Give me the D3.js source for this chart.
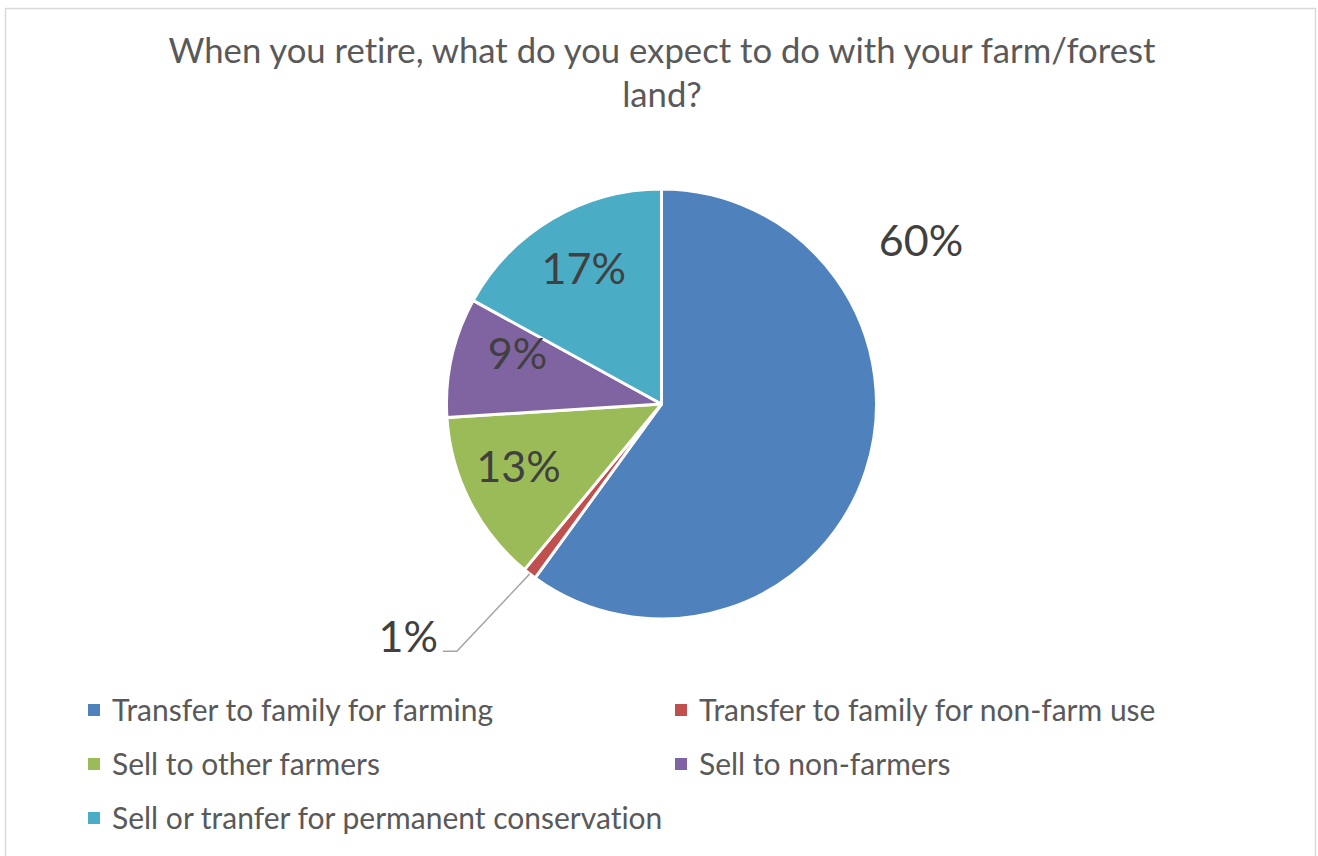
<!DOCTYPE html>
<html>
<head>
<meta charset="utf-8">
<script src="https://cdn.jsdelivr.net/npm/d3@7"></script>
<style>
  html, body { margin: 0; padding: 0; background: #ffffff; }
  svg { display: block; }
  text { font-family: Lato, "Open Sans", sans-serif; font-variant-ligatures: none; }
</style>
</head>
<body>
<svg id="chart" width="1318" height="856"></svg>
<script>
// Survey answers and their share of respondents (percent)
const categories = [
  "Transfer to family for farming",
  "Transfer to family for non-farm use",
  "Sell to other farmers",
  "Sell to non-farmers",
  "Sell or tranfer for permanent conservation"
];
const shares = [60, 1, 13, 9, 17];
const valueLabels = ["60%", "1%", "13%", "9%", "17%"];
const sliceColors = ["#4F81BD", "#C0504D", "#9BBB59", "#8064A2", "#4BACC6"];
const titleLines = ["When you retire, what do you expect to do with your farm/forest", "land?"];

const W = 1318, H = 856;
const cx = 661.5, cy = 404, R = 215;

const svg = d3.select("#chart");

// chart frame
svg.append("rect")
  .attr("x", 5.5).attr("y", 8.5)
  .attr("width", 1310).attr("height", H + 10)
  .attr("fill", "#ffffff")
  .attr("stroke", "#d9d9d9").attr("stroke-width", 1.5);

// title
svg.append("g").selectAll("text")
  .data(titleLines)
  .join("text")
  .attr("x", 662)
  .attr("y", (d, i) => 63 + i * 44)
  .attr("text-anchor", "middle")
  .attr("font-size", 34.7)
  .attr("fill", "#595959")
  .text(d => d);

const data = categories.map((c, i) => ({ name: c, value: shares[i], label: valueLabels[i], color: sliceColors[i] }));

const pie = d3.pie().sort(null).value(d => d.value);
const arcs = pie(data);
const arc = d3.arc().innerRadius(0).outerRadius(R);

const g = svg.append("g").attr("transform", `translate(${cx},${cy})`);

g.selectAll("path.slice")
  .data(arcs)
  .join("path")
  .attr("class", "slice")
  .attr("d", arc)
  .attr("fill", d => d.data.color)
  .attr("stroke", "#ffffff")
  .attr("stroke-width", 3)
  .attr("stroke-linejoin", "round");

// label anchors, as offsets from the pie centre in radius units
const labelLayout = [
  { dx: 1.207, dy: -0.688, anchor: "middle", leader: false },
  { dx: -1.04, dy: 1.155, anchor: "end", leader: true },
  { dx: -0.665, dy: 0.365, anchor: "middle", leader: false },
  { dx: -0.67, dy: -0.163, anchor: "middle", leader: false },
  { dx: -0.362, dy: -0.557, anchor: "middle", leader: false }
];

arcs.forEach((a, i) => {
  const L = labelLayout[i];
  const lx = L.dx * R, ly = L.dy * R;
  if (L.leader) {
    const mid = (a.startAngle + a.endAngle) / 2;
    const sx = Math.sin(mid) * R, sy = -Math.cos(mid) * R;
    const ey = ly - 1;
    g.append("path")
      .attr("d", `M${sx},${sy} L${lx + 19},${ey} L${lx + 5},${ey}`)
      .attr("fill", "none")
      .attr("stroke", "#a6a6a6")
      .attr("stroke-width", 1.5);
  }
  g.append("text")
    .attr("x", lx)
    .attr("y", ly)
    .attr("text-anchor", L.anchor)
    .attr("font-size", 43)
    .attr("fill", "#404040")
    .text(a.data.label);
});

// legend: two columns, three rows
const legend = svg.append("g");
const colX = [88, 675];
const rowY = [721, 775, 829];
const items = legend.selectAll("g.item")
  .data(data)
  .join("g")
  .attr("class", "item")
  .attr("transform", (d, i) => `translate(${colX[i % 2]},${rowY[Math.floor(i / 2)]})`);

items.append("rect")
  .attr("x", 0).attr("y", -17)
  .attr("width", 12).attr("height", 12)
  .attr("fill", d => d.color);

items.append("text")
  .attr("x", 24).attr("y", 0)
  .attr("font-size", 30)
  .attr("fill", "#595959")
  .text(d => d.name);
</script>
</body>
</html>
